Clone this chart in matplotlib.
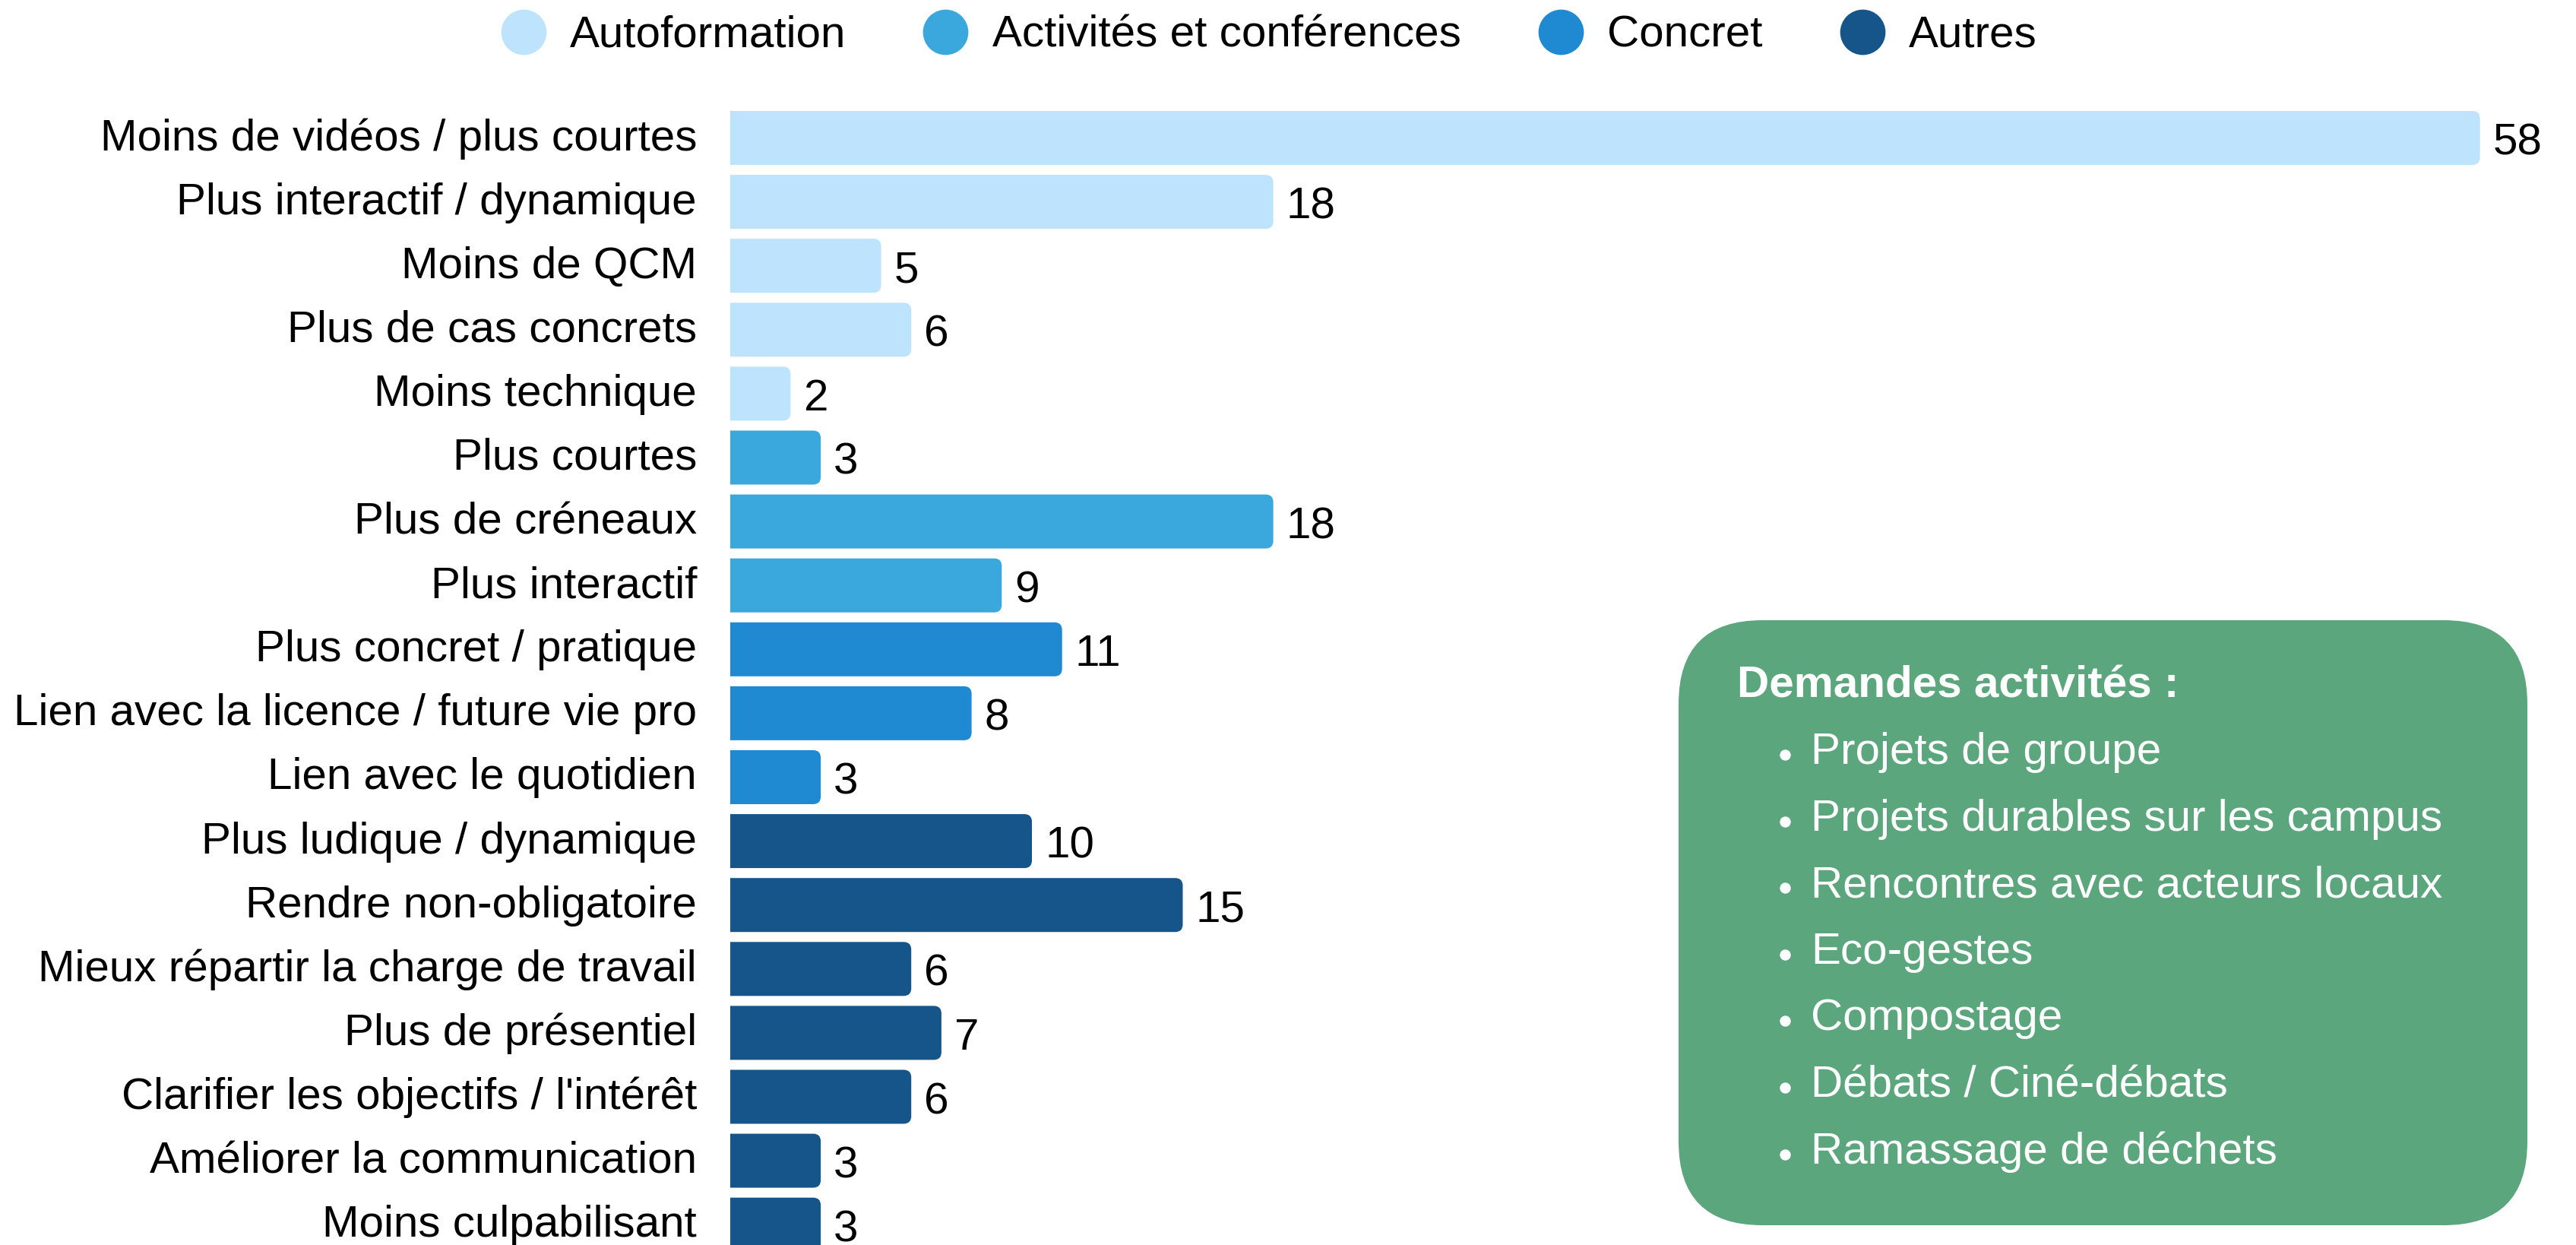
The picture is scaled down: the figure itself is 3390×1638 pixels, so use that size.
import matplotlib
matplotlib.use("Agg")
import matplotlib.pyplot as plt
from matplotlib.patches import FancyBboxPatch
from matplotlib.lines import Line2D

plt.rcParams['font.family'] = ['Liberation Sans', 'DejaVu Sans']

# ---- data ----
categories = [
    "Moins de vidéos / plus courtes",
    "Plus interactif / dynamique",
    "Moins de QCM",
    "Plus de cas concrets",
    "Moins technique",
    "Plus courtes",
    "Plus de créneaux",
    "Plus interactif",
    "Plus concret / pratique",
    "Lien avec la licence / future vie pro",
    "Lien avec le quotidien",
    "Plus ludique / dynamique",
    "Rendre non-obligatoire",
    "Mieux répartir la charge de travail",
    "Plus de présentiel",
    "Clarifier les objectifs / l'intérêt",
    "Améliorer la communication",
    "Moins culpabilisant",
]
values = [58, 18, 5, 6, 2, 3, 18, 9, 11, 8, 3, 10, 15, 6, 7, 6, 3, 3]
groups = ["Autoformation"] * 5 + ["Activités et conférences"] * 3 + ["Concret"] * 3 + ["Autres"] * 7

group_names = ["Autoformation", "Activités et conférences", "Concret", "Autres"]
group_colors = {
    "Autoformation": "#BEE3FD",
    "Activités et conférences": "#3AA7DD",
    "Concret": "#1F89D1",
    "Autres": "#16558A",
}

box_title = "Demandes activités :"
box_items = [
    "Projets de groupe",
    "Projets durables sur les campus",
    "Rencontres avec acteurs locaux",
    "Eco-gestes",
    "Compostage",
    "Débats / Ciné-débats",
    "Ramassage de déchets",
]

# ---- figure ----
W, H = 3391, 1638
DPI = 100
PT = 72 / DPI  # points per pixel
fig = plt.figure(figsize=(W / DPI, H / DPI), dpi=DPI)

left_px = 961
px_per_unit = 39.7
pitch = 84.1
first_center = 181.5
top_px = 100

ax = fig.add_axes([left_px / W, 0, 1 - left_px / W, 1 - top_px / H])
xmax = (W - left_px) / px_per_unit
ax.set_xlim(0, xmax)
ymin = -(first_center - top_px) / pitch
ymax = (H - first_center) / pitch
ax.set_ylim(ymax, ymin)

ypos = list(range(len(categories)))
colors = [group_colors[g] for g in groups]
bar_h = 71 / pitch
bars = ax.barh(ypos, values, height=bar_h, color=colors)

# rounded right-hand corners
r = 10 / px_per_unit
aspect = (10 / pitch) / r
for rect, c in zip(bars, colors):
    rect.set_visible(False)
    x0, y0 = rect.get_x(), rect.get_y()
    w, h = rect.get_width(), rect.get_height()
    p = FancyBboxPatch((x0 - 2 * r, y0), w + 2 * r, h,
                       boxstyle=f"round,pad=0,rounding_size={r}",
                       mutation_aspect=aspect, facecolor=c, edgecolor="none")
    ax.add_patch(p)

# value labels, baseline set so digits sit centred on the bar
anns = ax.bar_label(bars, labels=[str(v) for v in values], padding=12,
                    fontsize=42, color="black", clip_on=False)
for a in anns:
    a.set_verticalalignment("baseline")
    a.xyann = (17 * PT, -22 * PT)

# category labels to the left of the bars
ax.set_yticks([])
ax.set_xticks([])
for i, cat in enumerate(categories):
    ax.annotate(cat, xy=(0, i), xycoords=("axes fraction", "data"),
                xytext=(-44 * PT, -16 * PT), textcoords="offset points",
                ha="right", va="baseline", fontsize=42, color="black",
                annotation_clip=False)
for s in ax.spines.values():
    s.set_visible(False)
ax.patch.set_alpha(0)

# ---- legend ----
handles = [Line2D([], [], linestyle="none", marker="o", markersize=43,
                  markerfacecolor=group_colors[g], markeredgecolor="none", label=g)
           for g in group_names]
fig.legend(handles=handles, loc="center", bbox_to_anchor=(0.4925, 1 - 47 / H),
           ncol=4, frameon=False, fontsize=42, handlelength=1.0,
           handletextpad=0.55, columnspacing=1.75)

# ---- side box ----
ov = fig.add_axes([0, 0, 1, 1])
ov.set_xlim(0, W)
ov.set_ylim(H, 0)
ov.axis("off")
ov.patch.set_alpha(0)

bx0, by0, bx1, by1 = 2209, 816, 3326, 1612
box = FancyBboxPatch((bx0, by0), bx1 - bx0, by1 - by0,
                     boxstyle="round,pad=0,rounding_size=110",
                     facecolor="#5BA67C", edgecolor="none")
ov.add_patch(box)
ov.text(2286, 917.5, box_title, fontsize=42, fontweight="bold", color="white",
        ha="left", va="baseline")
item_base0 = 1005
item_step = 87.6
for i, item in enumerate(box_items):
    yb = item_base0 + i * item_step
    ov.plot([2349], [yb - 12], marker="o", markersize=13 * PT,
            color="white", linestyle="none")
    ov.text(2383, yb, item, fontsize=42, color="white", ha="left", va="baseline")

fig.savefig("out.png", dpi=DPI)
